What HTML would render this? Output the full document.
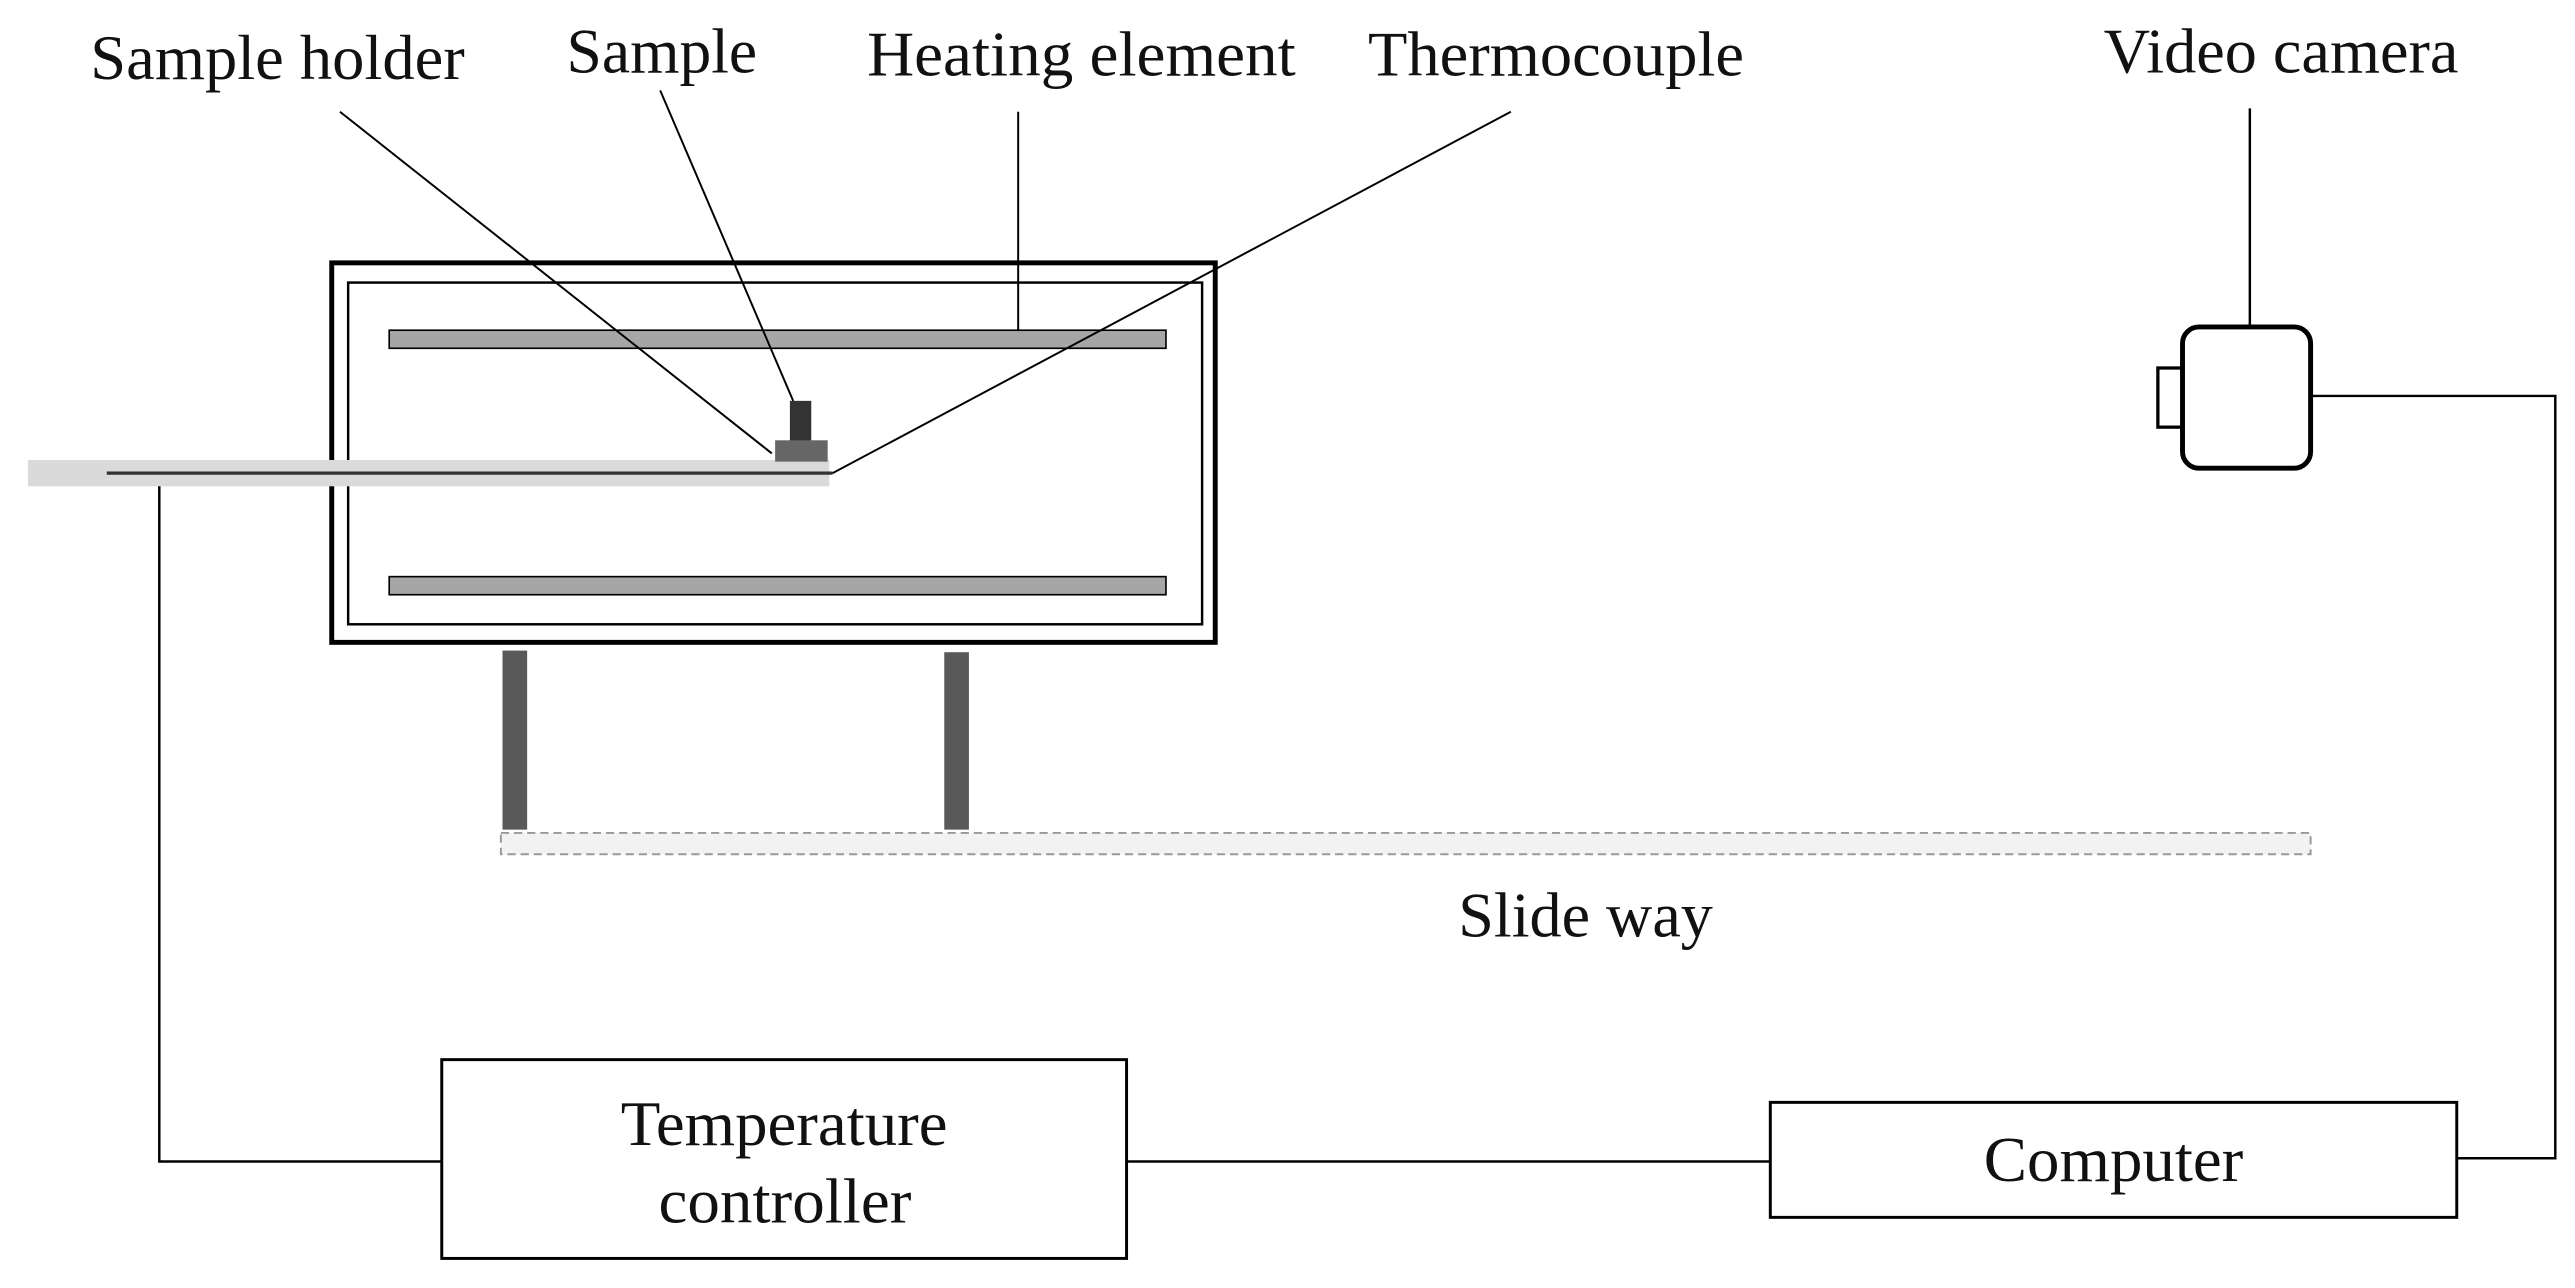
<!DOCTYPE html>
<html><head><meta charset="utf-8"><style>
html,body{margin:0;padding:0;background:#fff;}
svg{display:block;}
text{font-family:"Liberation Serif",serif;font-size:39px;fill:#111;}
</style></head><body>
<svg width="2575" height="1288" viewBox="0 0 1568 784" preserveAspectRatio="none" xmlns="http://www.w3.org/2000/svg">
<rect width="1568" height="784" fill="#fff"/>
<text x="55" y="48" textLength="228" lengthAdjust="spacingAndGlyphs">Sample holder</text>
<text x="345" y="44" textLength="116" lengthAdjust="spacingAndGlyphs">Sample</text>
<text x="528" y="46" textLength="261" lengthAdjust="spacingAndGlyphs">Heating element</text>
<text x="833" y="46" textLength="229" lengthAdjust="spacingAndGlyphs">Thermocouple</text>
<text x="1281" y="44" textLength="216" lengthAdjust="spacingAndGlyphs">Video camera</text>
<rect x="202" y="160" width="538" height="231" fill="none" stroke="#000" stroke-width="3"/>
<rect x="212" y="172" width="520" height="208" fill="none" stroke="#000" stroke-width="1.5"/>
<rect x="237" y="201" width="473" height="11" fill="#a6a6a6" stroke="#000" stroke-width="1"/>
<rect x="237" y="351" width="473" height="11" fill="#a6a6a6" stroke="#000" stroke-width="1"/>
<rect x="17" y="280" width="488" height="16" fill="#dadada"/>
<line x1="65" y1="288" x2="507" y2="288" stroke="#333" stroke-width="2"/>
<rect x="481" y="244" width="13" height="25" fill="#333"/>
<rect x="472" y="268" width="32" height="13" fill="#666"/>
<line x1="207" y1="68" x2="470" y2="276" stroke="#000" stroke-width="1.2"/>
<line x1="402" y1="55" x2="483" y2="244" stroke="#000" stroke-width="1.2"/>
<line x1="620" y1="68" x2="620" y2="201" stroke="#000" stroke-width="1.2"/>
<line x1="920" y1="68" x2="507" y2="288" stroke="#000" stroke-width="1.2"/>
<rect x="306" y="396" width="15" height="109" fill="#595959"/>
<rect x="575" y="397" width="15" height="108" fill="#595959"/>
<rect x="305" y="507" width="1102" height="13" fill="#f2f2f2" stroke="#999" stroke-width="1.2" stroke-dasharray="5,3"/>
<text x="888" y="570" textLength="155" lengthAdjust="spacingAndGlyphs">Slide way</text>
<line x1="1370" y1="66" x2="1370" y2="199" stroke="#000" stroke-width="1.5"/>
<rect x="1314" y="224" width="15" height="36" fill="#fff" stroke="#000" stroke-width="2"/>
<rect x="1329" y="199" width="78" height="86" rx="10" fill="#fff" stroke="#000" stroke-width="3"/>
<rect x="269" y="645" width="417" height="121" fill="#fff" stroke="#000" stroke-width="1.8"/>
<text x="378" y="697" textLength="199" lengthAdjust="spacingAndGlyphs">Temperature</text>
<text x="401" y="744" textLength="154" lengthAdjust="spacingAndGlyphs">controller</text>
<rect x="1078" y="671" width="418" height="70" fill="#fff" stroke="#000" stroke-width="1.8"/>
<text x="1208" y="719" textLength="158" lengthAdjust="spacingAndGlyphs">Computer</text>
<polyline points="97,296 97,707 269,707" fill="none" stroke="#000" stroke-width="1.5"/>
<line x1="686" y1="707" x2="1078" y2="707" stroke="#000" stroke-width="1.5"/>
<polyline points="1496,705 1556,705 1556,241 1407,241" fill="none" stroke="#000" stroke-width="1.5"/>
</svg>
</body></html>
